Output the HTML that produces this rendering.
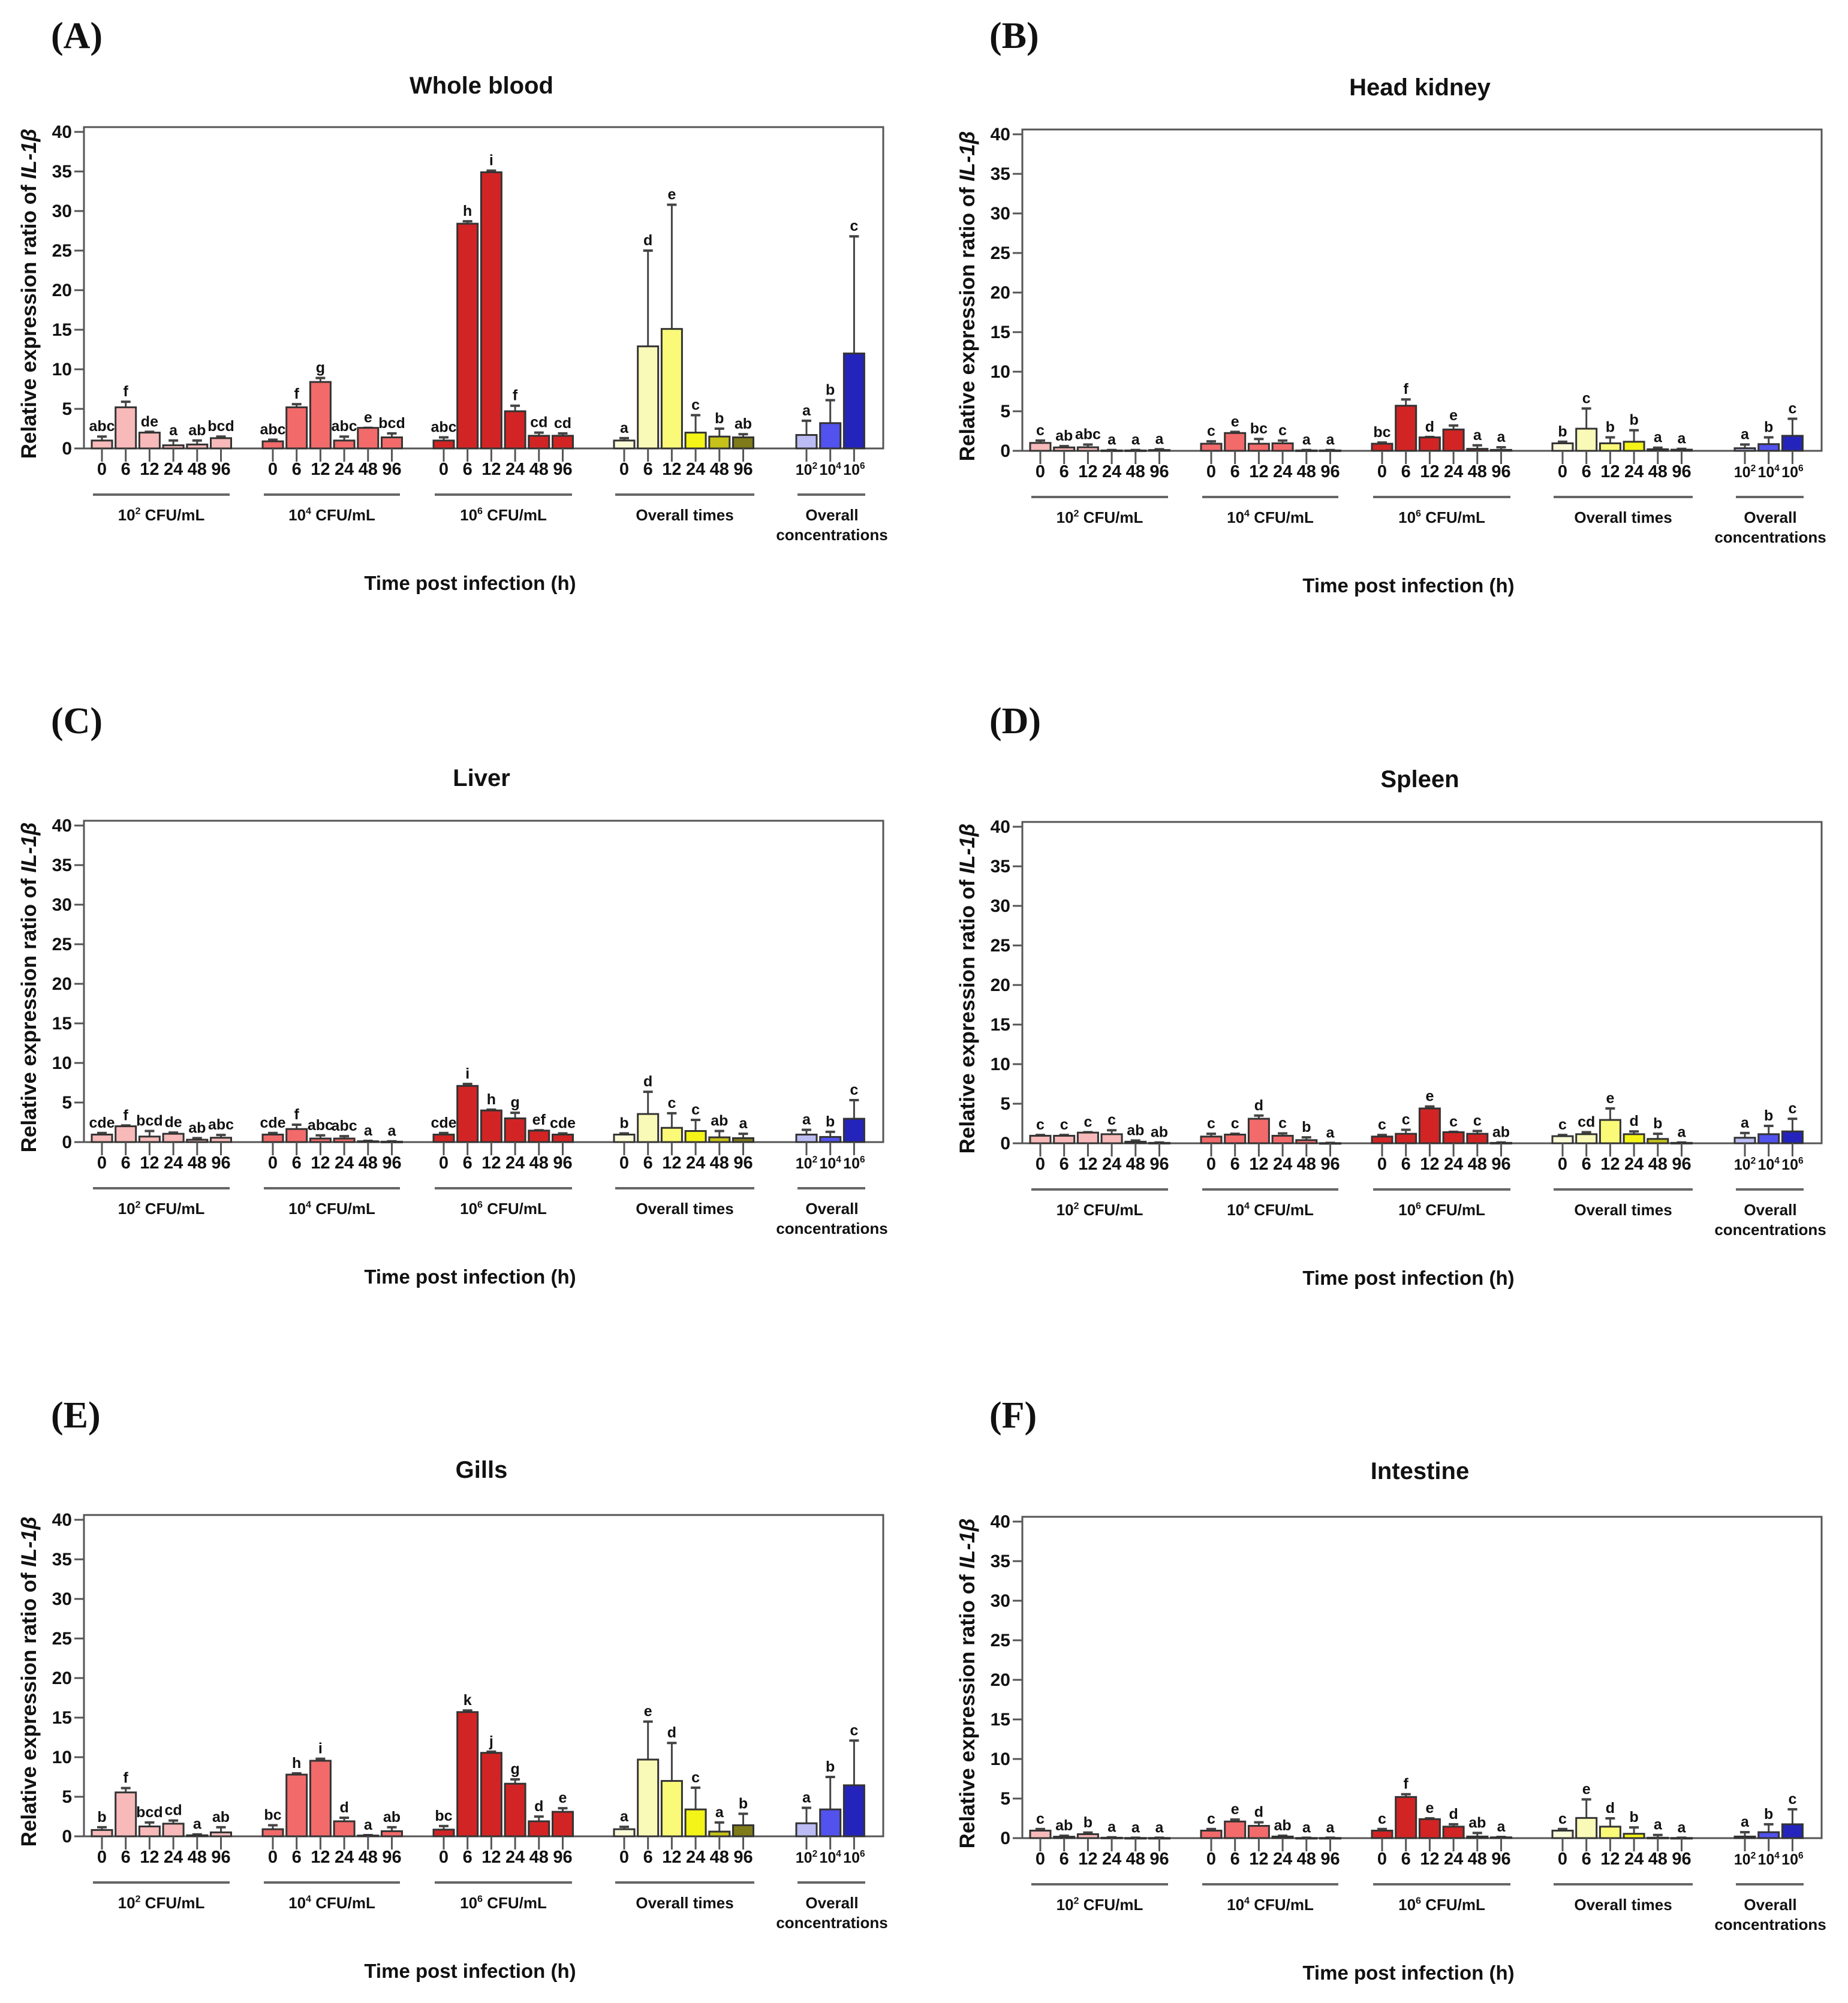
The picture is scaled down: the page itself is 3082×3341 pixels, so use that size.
<!DOCTYPE html>
<html><head><meta charset="utf-8"><style>
html,body{margin:0;padding:0;background:#fff;}
svg{display:block;}
text{font-family:"Liberation Sans Narrow","Liberation Sans",sans-serif;font-weight:bold;fill:#111;}
.sans{font-family:"Liberation Sans",sans-serif;}
.serif{font-family:"Liberation Serif",serif;font-weight:bold;}
</style></head><body>
<svg id="fig" width="3082" height="3341" viewBox="0 0 3082 3341" xmlns="http://www.w3.org/2000/svg"></svg>
<script>
// categories
const timeLabels = ["0","6","12","24","48","96"];
const concLabels = ["2","4","6"];
const groupNames = ["10|2| CFU/mL","10|4| CFU/mL","10|6| CFU/mL","Overall times","Overall concentrations"];
const yTicks = [0,5,10,15,20,25,30,35,40];

// Whole blood
const wbMean = [1.0,5.2,2.0,0.4,0.5,1.3, 0.9,5.2,8.4,1.0,2.6,1.4, 1.0,28.4,34.9,4.7,1.6,1.6, 1.0,12.9,15.1,2.0,1.5,1.4, 1.7,3.2,12.0];
const wbErr  = [1.5,5.9,2.1,1.0,1.0,1.5, 1.1,5.6,8.9,1.5,2.6,1.9, 1.4,28.7,35.1,5.4,2.0,1.9, 1.3,25.0,30.8,4.2,2.5,1.8, 3.5,6.1,26.8];
const wbLet  = ["abc","f","de","a","ab","bcd","abc","f","g","abc","e","bcd","abc","h","i","f","cd","cd","a","d","e","c","b","ab","a","b","c"];
// Head kidney
const hkMean = [1.0,0.43,0.45,0.05,0.05,0.1, 0.9,2.25,0.9,0.95,0.05,0.05, 0.9,5.7,1.7,2.7,0.25,0.12, 0.95,2.8,0.95,1.15,0.2,0.15, 0.33,0.85,1.9];
const hkErr  = [1.3,0.6,0.8,0.1,0.1,0.2, 1.2,2.4,1.5,1.3,0.1,0.1, 1.05,6.5,1.75,3.2,0.7,0.45, 1.15,5.35,1.7,2.6,0.4,0.25, 0.8,1.7,4.05];
const hkLet  = ["c","ab","abc","a","a","a","c","e","bc","c","a","a","bc","f","d","e","a","a","b","c","b","b","a","a","a","b","c"];
// Liver
const lvMean = [0.95,2.0,0.7,1.05,0.3,0.55, 0.95,1.65,0.45,0.45,0.1,0.05, 0.95,7.1,4.0,3.0,1.45,0.95, 0.95,3.55,1.8,1.4,0.6,0.5, 0.95,0.65,2.95];
const lvErr  = [1.15,2.1,1.4,1.2,0.5,0.9, 1.15,2.2,0.85,0.75,0.15,0.1, 1.15,7.35,4.1,3.7,1.5,1.1, 1.1,6.35,3.65,2.8,1.4,1.05, 1.55,1.3,5.3];
const lvLet  = ["cde","f","bcd","de","ab","abc","cde","f","abc","abc","a","a","cde","i","h","g","ef","cde","b","d","c","c","ab","a","a","b","c"];
// Spleen
const spMean = [0.95,0.95,1.35,1.15,0.2,0.05, 0.85,1.1,3.1,0.95,0.4,0.02, 0.85,1.2,4.4,1.4,1.2,0.05, 0.9,1.15,2.95,1.15,0.55,0.05, 0.7,1.15,1.5];
const spErr  = [1.05,1.05,1.4,1.65,0.35,0.1, 1.2,1.2,3.5,1.25,0.75,0.05, 1.05,1.7,4.65,1.45,1.55,0.1, 1.05,1.4,4.4,1.5,1.2,0.1, 1.3,2.2,3.1];
const spLet  = ["c","c","c","c","ab","ab","c","c","d","c","b","a","c","c","e","c","c","ab","c","cd","e","d","b","a","a","b","c"];
// Gills
const giMean = [0.8,5.55,1.25,1.6,0.13,0.5, 0.9,7.8,9.55,1.9,0.1,0.65, 0.85,15.7,10.55,6.65,1.9,3.1, 0.9,9.7,7.0,3.4,0.6,1.4, 1.65,3.4,6.45];
const giErr  = [1.15,6.1,1.75,2.0,0.25,1.15, 1.4,7.95,9.8,2.35,0.15,1.15, 1.3,15.9,10.7,7.2,2.5,3.55, 1.2,14.5,11.8,6.15,1.75,2.85, 3.6,7.5,12.1];
const giLet  = ["b","f","bcd","cd","a","ab","bc","h","i","d","a","ab","bc","k","j","g","d","e","a","e","d","c","a","b","a","b","c"];
// Intestine
const inMean = [0.95,0.18,0.5,0.05,0.02,0.02, 0.95,2.1,1.55,0.2,0.02,0.02, 0.95,5.2,2.4,1.45,0.2,0.1, 0.95,2.55,1.45,0.55,0.05,0.02, 0.2,0.75,1.75];
const inErr  = [1.15,0.3,0.7,0.1,0.05,0.05, 1.15,2.35,2.0,0.3,0.05,0.05, 1.15,5.55,2.5,1.75,0.65,0.15, 1.15,4.9,2.5,1.35,0.4,0.05, 0.75,1.75,3.65];
const inLet  = ["c","ab","b","a","a","a","c","e","d","ab","a","a","c","f","e","d","ab","a","c","e","d","b","a","a","a","b","c"];

const barColors = ["#f7b9b9","#f7b9b9","#f7b9b9","#f7b9b9","#f7b9b9","#f7b9b9",
  "#f26a6a","#f26a6a","#f26a6a","#f26a6a","#f26a6a","#f26a6a",
  "#d22424","#d22424","#d22424","#d22424","#d22424","#d22424",
  "#fbfbd8","#fafab8","#fafa78","#f4f418","#c6c21a","#7f7a1a",
  "#bcbcf4","#5252ee","#2424bc"];

const NS = "http://www.w3.org/2000/svg";
const svg = document.getElementById("fig");
function mk(tag, attrs, parent){
  const e = document.createElementNS(NS, tag);
  for (const k in attrs) e.setAttribute(k, attrs[k]);
  (parent||svg).appendChild(e);
  return e;
}
function supText(parent, x, y, str, fs, name){
  const t = mk("text", {x:x, y:y, "font-size":fs, "text-anchor":"middle"}, parent);
  
  
  const parts = str.split("|");
  if (parts.length === 1){ t.textContent = str; return t; }
  const a = mk("tspan", {}, t); a.textContent = parts[0];
  const b = mk("tspan", {dy: -fs*0.4, "font-size": fs*0.62}, t); b.textContent = parts[1];
  const c = mk("tspan", {dy: fs*0.4}, t); c.textContent = parts[2];
  return t;
}

const groupStarts = [170,455,740,1041,1345];
const step = 39.7;
const barW = 34;
const lineSpans = [[155,383],[440,667],[725,954],[1026,1258],[1330,1443]];

function drawPanel(key, ox, oy, label, title, titleY, labelY, means, errs, lets){
  const g = mk("g", {transform:`translate(${ox},${oy})`});
  
  
  const y0 = 748, unit = 13.2;
  const yScale = v => y0 - v*unit;
  const xPos = i => { let gi, k; if (i<24){gi=Math.floor(i/6);k=i%6;} else {gi=4;k=i-24;} return groupStarts[gi]+k*step; };

  const lab = mk("text", {x:85, y:labelY-oy+20, "font-size":62, class:"serif"}, g);
  
  
  lab.textContent = label;

  const ti = mk("text", {x:803, y:titleY-oy+14, "font-size":40, "text-anchor":"middle", class:"sans"}, g);
  
  
  ti.textContent = title;

  const box = mk("rect", {x:140, y:212, width:1333, height:536, fill:"none", stroke:"#555", "stroke-width":3}, g);
  
  

  yTicks.forEach(v => {
    const yy = yScale(v);
    const tk = mk("line", {x1:124, x2:140, y1:yy, y2:yy, stroke:"#555", "stroke-width":3}, g);
    
    
    const tl = mk("text", {x:120, y:yy+10, "font-size":30, "text-anchor":"end", class:"sans"}, g);
    
    
    tl.textContent = v;
  });

  const yl = mk("text", {x:0, y:0, "font-size":35, "text-anchor":"middle", class:"sans", transform:`translate(60,490) rotate(-90)`}, g);
  
  
  const t1 = mk("tspan", {}, yl); t1.textContent = "Relative expression ratio of ";
  const t2 = mk("tspan", {"font-style":"italic"}, yl); t2.textContent = "IL-1β";

  means.forEach((m, i) => {
    const cx = xPos(i);
    const top = yScale(m), et = yScale(errs[i]);
    const el = mk("line", {x1:cx, x2:cx, y1:top, y2:et, stroke:"#444", "stroke-width":3}, g);
    
    
    const cap = mk("line", {x1:cx-8, x2:cx+8, y1:et, y2:et, stroke:"#444", "stroke-width":4}, g);
    
    
    const b = mk("rect", {x:cx-barW/2, y:top, width:barW, height:Math.max(y0-top,1), fill:barColors[i], stroke:"#333", "stroke-width":3}, g);
    
    
    const lt = mk("text", {x:cx, y:et-9, "font-size":25, "text-anchor":"middle"}, g);
    
    
    lt.textContent = lets[i];
    const xt = mk("line", {x1:cx, x2:cx, y1:y0, y2:y0+22, stroke:"#555", "stroke-width":3}, g);
    
    
    if (i < 24) {
      const xl = mk("text", {x:cx, y:792, "font-size":29, "text-anchor":"middle"}, g);
      
      
      xl.textContent = timeLabels[i%6];
    } else {
      supText(g, cx, 792, "10|" + concLabels[i-24] + "|", 25, 'x-tick-label');
    }
  });

  lineSpans.forEach((s, k) => {
    const ln = mk("line", {x1:s[0], x2:s[1], y1:825, y2:825, stroke:"#666", "stroke-width":4}, g);
    
    
    const cx = (s[0]+s[1])/2;
    if (k === 4) {
      const a = mk("text", {x:cx+1, y:868, "font-size":26, "text-anchor":"middle"}, g);
      
      
      a.textContent = "Overall";
      const c = mk("text", {x:cx+1, y:901, "font-size":26, "text-anchor":"middle"}, g);
      
      
      c.textContent = "concentrations";
    } else {
      supText(g, cx, 868, groupNames[k], 26, 'group-label');
    }
  });

  const xt = mk("text", {x:784, y:984, "font-size":33, "text-anchor":"middle"}, g);
  
  
  xt.textContent = "Time post infection (h)";
}

drawPanel("whole-blood", 0, 0, "(A)", "Whole blood", 142, 60, wbMean, wbErr, wbLet);
drawPanel("head-kidney", 1565, 4, "(B)", "Head kidney", 145, 60, hkMean, hkErr, hkLet);
drawPanel("liver", 0, 1157, "(C)", "Liver", 1297, 1203, lvMean, lvErr, lvLet);
drawPanel("spleen", 1565, 1159, "(D)", "Spleen", 1299, 1203, spMean, spErr, spLet);
drawPanel("gills", 0, 2315, "(E)", "Gills", 2451, 2361, giMean, giErr, giLet);
drawPanel("intestine", 1565, 2318, "(F)", "Intestine", 2453, 2361, inMean, inErr, inLet);
</script>
</body></html>
